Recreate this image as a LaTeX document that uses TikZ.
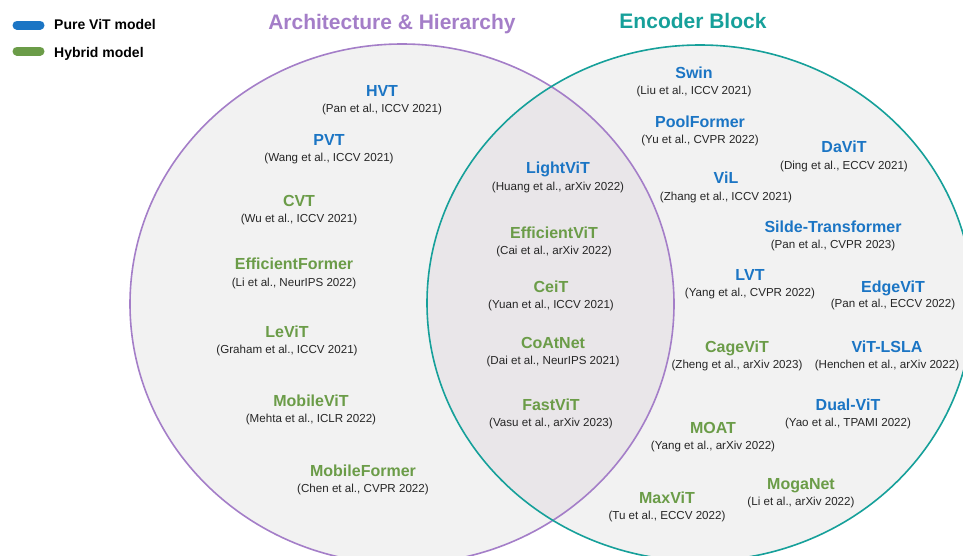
\documentclass[tikz,border=0pt]{standalone}
\usepackage{fontspec}
\setmainfont{Liberation Sans}
\definecolor{purp}{HTML}{A47EC8}
\definecolor{tealc}{HTML}{16A09A}
\definecolor{bluec}{HTML}{1B75C4}
\definecolor{greenc}{HTML}{6B9C48}
\definecolor{fillc}{HTML}{F2F2F2}
\definecolor{interc}{HTML}{E9E6E9}
\begin{document}
\begin{tikzpicture}[x=1pt,y=-1pt,
  nm/.style={font=\bfseries\fontsize{16}{18}\selectfont, text height=11.5pt, text depth=0pt, inner sep=0pt},
  bl/.style={nm, text=bluec},
  gr/.style={nm, text=greenc},
  ct/.style={font=\fontsize{11.6}{13}\selectfont, text height=8.3pt, text depth=0pt, inner sep=0pt, text=black!85},
  ttl/.style={font=\bfseries\fontsize{21}{24}\selectfont, text height=15pt, text depth=0pt, inner sep=0pt},
  leg/.style={font=\bfseries\fontsize{14}{16}\selectfont, text height=10pt, text depth=0pt, inner sep=0pt, anchor=west},
  bar/.style={line width=9pt, line cap=round}]
\useasboundingbox (0,0) rectangle (963,555);
\begin{scope}
\clip (0,0) rectangle (963,555);
\fill[fillc] (402,304) ellipse [x radius=272, y radius=260];
\fill[fillc] (700,303) ellipse [x radius=273, y radius=258];
\begin{scope}
\clip (402,304) ellipse [x radius=272, y radius=260];
\fill[interc] (700,303) ellipse [x radius=273, y radius=258];
\end{scope}
\draw[purp, line width=1.6pt] (402,304) ellipse [x radius=272, y radius=260];
\draw[tealc, line width=1.6pt] (700,303) ellipse [x radius=273, y radius=258];
\end{scope}
% legend
\coordinate (b1s) at (17,25); \coordinate (b1e) at (40,25);
\coordinate (b2s) at (17,51); \coordinate (b2e) at (40,51);
\draw[bar, bluec] (b1s) -- (b1e);
\draw[bar, greenc] (b2s) -- (b2e);
\node[leg] (l1) at (54,24) {Pure ViT model};
\node[leg] (l2) at (54,52) {Hybrid model};
% titles
\node[ttl, text=purp] (t1) at (392,22) {Architecture \& Hierarchy};
\node[ttl, text=tealc] (t2) at (693,21) {Encoder Block};
% left
\node[bl] (hvt) at (382,91) {HVT};
\node[ct] (hvtc) at (382,108) {(Pan et al., ICCV 2021)};
\node[bl] (pvt) at (329,140) {PVT};
\node[ct] (pvtc) at (329,157) {(Wang et al., ICCV 2021)};
\node[gr] (cvt) at (299,201) {CVT};
\node[ct] (cvtc) at (299,218) {(Wu et al., ICCV 2021)};
\node[gr] (eff) at (294,264) {EfficientFormer};
\node[ct] (effc) at (294,282) {(Li et al., NeurIPS 2022)};
\node[gr] (levit) at (287,332) {LeViT};
\node[ct] (levitc) at (287,349) {(Graham et al., ICCV 2021)};
\node[gr] (mvit) at (311,401) {MobileViT};
\node[ct] (mvitc) at (311,418) {(Mehta et al., ICLR 2022)};
\node[gr] (mform) at (363,471) {MobileFormer};
\node[ct] (mformc) at (363,488) {(Chen et al., CVPR 2022)};
% middle
\node[bl] (light) at (558,168) {LightViT};
\node[ct] (lightc) at (558,186) {(Huang et al., arXiv 2022)};
\node[gr] (effvit) at (554,233) {EfficientViT};
\node[ct] (effvitc) at (554,250) {(Cai et al., arXiv 2022)};
\node[gr] (ceit) at (551,287) {CeiT};
\node[ct] (ceitc) at (551,304) {(Yuan et al., ICCV 2021)};
\node[gr] (coat) at (553,343) {CoAtNet};
\node[ct] (coatc) at (553,360) {(Dai et al., NeurIPS 2021)};
\node[gr] (fast) at (551,405) {FastViT};
\node[ct] (fastc) at (551,422) {(Vasu et al., arXiv 2023)};
% right
\node[bl] (swin) at (694,73) {Swin};
\node[ct] (swinc) at (694,90) {(Liu et al., ICCV 2021)};
\node[bl] (pool) at (700,122) {PoolFormer};
\node[ct] (poolc) at (700,139) {(Yu et al., CVPR 2022)};
\node[bl] (davit) at (844,147) {DaViT};
\node[ct] (davitc) at (844,165) {(Ding et al., ECCV 2021)};
\node[bl] (vil) at (726,178) {ViL};
\node[ct] (vilc) at (726,196) {(Zhang et al., ICCV 2021)};
\node[bl] (silde) at (833,227) {Silde-Transformer};
\node[ct] (sildec) at (833,244) {(Pan et al., CVPR 2023)};
\node[bl] (lvt) at (750,275) {LVT};
\node[ct] (lvtc) at (750,292) {(Yang et al., CVPR 2022)};
\node[bl] (edge) at (893,287) {EdgeViT};
\node[ct] (edgec) at (893,303) {(Pan et al., ECCV 2022)};
\node[gr] (cage) at (737,347) {CageViT};
\node[ct] (cagec) at (737,364) {(Zheng et al., arXiv 2023)};
\node[bl] (lsla) at (887,347) {ViT-LSLA};
\node[ct] (lslac) at (887,364) {(Henchen et al., arXiv 2022)};
\node[bl] (dual) at (848,405) {Dual-ViT};
\node[ct] (dualc) at (848,422) {(Yao et al., TPAMI 2022)};
\node[gr] (moat) at (713,428) {MOAT};
\node[ct] (moatc) at (713,445) {(Yang et al., arXiv 2022)};
\node[gr] (moga) at (801,484) {MogaNet};
\node[ct] (mogac) at (801,501) {(Li et al., arXiv 2022)};
\node[gr] (maxvit) at (667,498) {MaxViT};
\node[ct] (maxvitc) at (667,515) {(Tu et al., ECCV 2022)};
\end{tikzpicture}
\end{document}
